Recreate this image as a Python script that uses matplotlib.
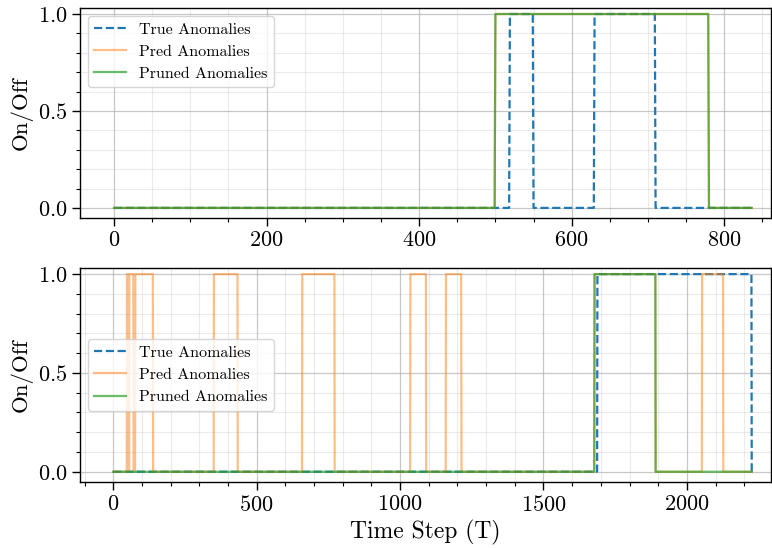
import numpy as np
import matplotlib
matplotlib.use("Agg")
import matplotlib.pyplot as plt
from matplotlib.ticker import MultipleLocator

plt.rcParams['font.family'] = ['cmr10', 'DejaVu Serif']
plt.rcParams['axes.formatter.use_mathtext'] = True
plt.rcParams['mathtext.fontset'] = 'cm'

# ---- data: anomaly intervals (start, end) in time steps ----
top_length = 836
top_true = [(519, 549), (630, 709)]
top_pred = [(500, 779)]
top_pruned = [(500, 779)]

bot_length = 2226
bot_true = [(1688, 2225)]
bot_pred = [(48, 54), (56, 70), (77, 138), (351, 433), (659, 771),
            (1036, 1090), (1160, 1213), (1678, 1890), (2053, 2126)]
bot_pruned = [(1678, 1890)]

labels = ["True Anomalies", "Pred Anomalies", "Pruned Anomalies"]
top_xticks = [0, 200, 400, 600, 800]
bot_xticks = [0, 500, 1000, 1500, 2000]
yticks = [0.0, 0.5, 1.0]


def series(length, intervals):
    y = np.zeros(length + 1)
    for s, e in intervals:
        y[s:e + 1] = 1.0
    return y


fig = plt.figure(figsize=(7.72, 5.48), dpi=100)
ax1 = fig.add_axes([0.1036, 0.6022, 0.8954, 0.3832])
ax2 = fig.add_axes([0.1036, 0.1204, 0.8954, 0.3906])


def draw(ax, length, tr, pr, pu, xticks, xminor, xlim, legloc):
    t = np.arange(length + 1)
    ax.plot(t, series(length, tr), '--', color='#1f77b4', lw=1.6, label=labels[0], zorder=3)
    ax.plot(t, series(length, pr), '-', color='#ff7f0e', alpha=0.5, lw=1.6, label=labels[1], zorder=3)
    ax.plot(t, series(length, pu), '-', color='#2ca02c', alpha=0.7, lw=1.6, label=labels[2], zorder=3)
    ax.set_xlim(*xlim)
    ax.set_ylim(-0.052, 1.031)
    ax.set_xticks(xticks)
    ax.set_yticks(yticks)
    ax.xaxis.set_minor_locator(MultipleLocator(xminor))
    ax.yaxis.set_minor_locator(MultipleLocator(0.1))
    ax.grid(which='major', color='#b0b0b0', alpha=0.7, lw=0.9)
    ax.grid(which='minor', color='#b0b0b0', alpha=0.25, lw=0.8)
    ax.set_axisbelow(True)
    ax.tick_params(which='major', direction='out', length=5.5, width=1.0, labelsize=16)
    ax.tick_params(which='minor', direction='out', length=3, width=0.8)
    ax.set_ylabel("On/Off", fontsize=16.5)
    for sp in ax.spines.values():
        sp.set_linewidth(1.0)
    ax.legend(loc=legloc, fontsize=11.5, framealpha=0.8)


draw(ax1, top_length, top_true, top_pred, top_pruned, top_xticks, 50,
     (-44.6, 861.6), 'upper left')
draw(ax2, bot_length, bot_true, bot_pred, bot_pruned, bot_xticks, 100,
     (-116, 2294), 'center left')
ax2.set_xlabel("Time Step (T)", fontsize=17)

fig.savefig("out.png", dpi=100)
